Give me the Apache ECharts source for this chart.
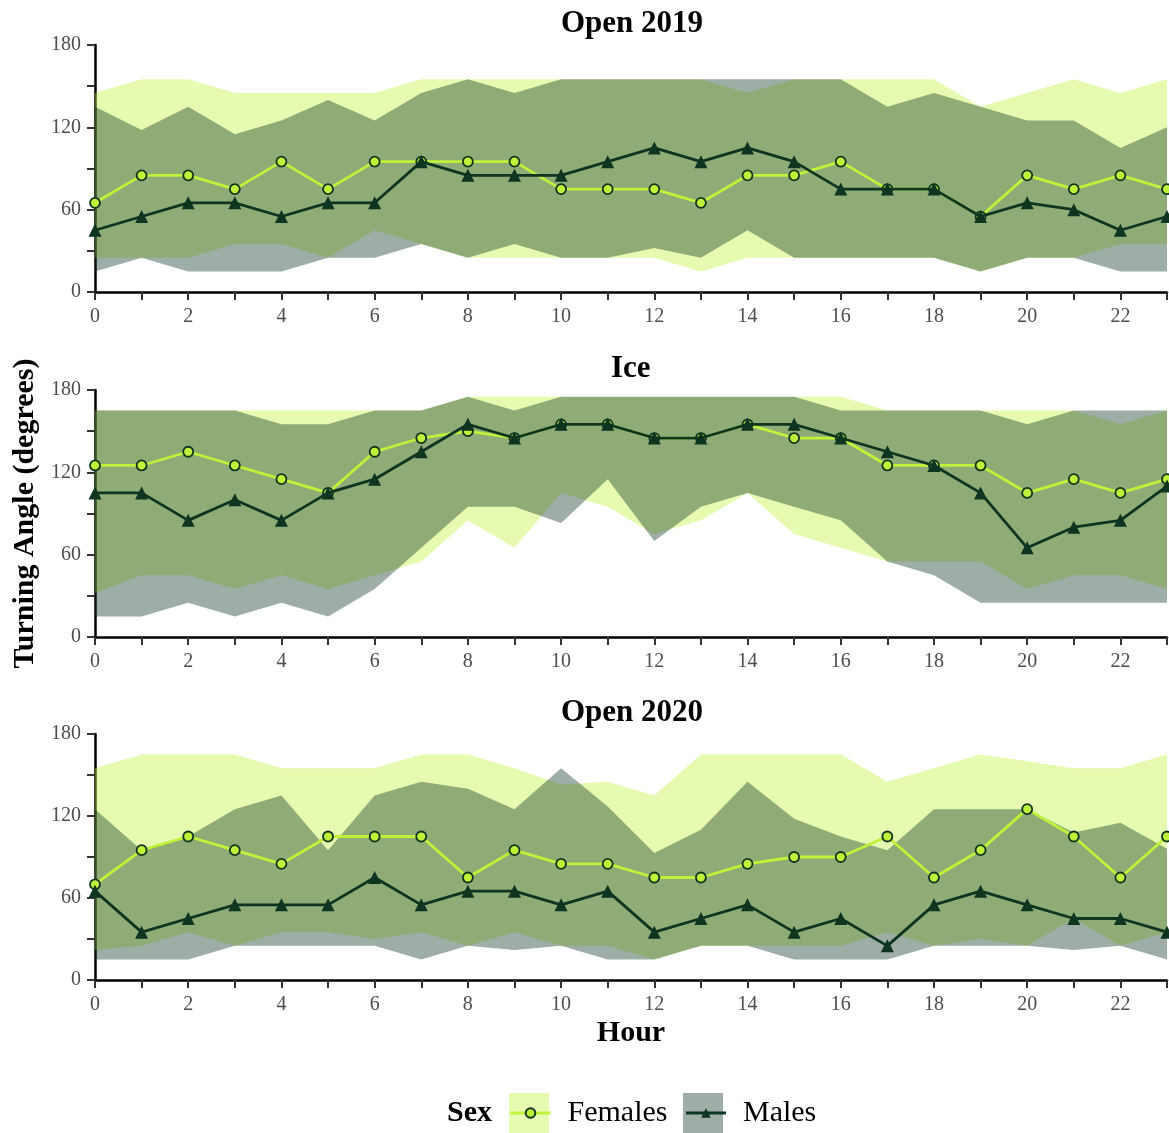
<!DOCTYPE html>
<html>
<head>
<meta charset="utf-8">
<script src="https://cdn.jsdelivr.net/npm/echarts@6/dist/echarts.min.js"></script>
<style>
html,body{margin:0;padding:0;background:#fff;}
#chart{width:1169px;height:1133px;}
</style>
</head>
<body>
<div id="chart"></div>
<script>
// ---------- data ----------
const hours = ['0','1','2','3','4','5','6','7','8','9','10','11','12','13','14','15','16','17','18','19','20','21','22','23'];
const panelTitles = ['Open 2019', 'Ice', 'Open 2020'];
const yTicks = [0, 60, 120, 180];

// Open 2019
const open2019FemMean  = [65,85,85,75,95,75,95,95,95,95,75,75,75,65,85,85,95,75,75,55,85,75,85,75];
const open2019MalMean  = [45,55,65,65,55,65,65,95,85,85,85,95,105,95,105,95,75,75,75,55,65,60,45,55];
const open2019FemUpper = [145,155,155,145,145,145,145,155,155,155,155,155,155,155,145,155,155,155,155,135,145,155,145,155];
const open2019FemLower = [25,25,25,35,35,25,45,35,25,25,25,25,25,15,25,25,25,25,25,15,25,25,35,35];
const open2019MalUpper = [135,118,135,115,125,140,125,145,155,145,155,155,155,155,155,155,155,135,145,135,125,125,105,120];
const open2019MalLower = [15,25,15,15,15,25,25,35,25,35,25,25,32,25,45,25,25,25,25,15,25,25,15,15];

// Ice
const iceFemMean  = [125,125,135,125,115,105,135,145,150,145,155,155,145,145,155,145,145,125,125,125,105,115,105,115];
const iceMalMean  = [105,105,85,100,85,105,115,135,155,145,155,155,145,145,155,155,145,135,125,105,65,80,85,110];
const iceFemUpper = [165,165,165,165,165,165,165,165,175,175,175,175,175,175,175,175,175,165,165,165,165,165,155,165];
const iceFemLower = [32,45,45,35,45,35,45,55,85,65,105,95,75,85,105,75,65,55,55,55,35,45,45,35];
const iceMalUpper = [165,165,165,165,155,155,165,165,175,165,175,175,175,175,175,175,165,165,165,165,155,165,165,165];
const iceMalLower = [15,15,25,15,25,15,35,65,95,95,83,115,70,95,105,95,85,55,45,25,25,25,25,25];

// Open 2020
const open2020FemMean  = [70,95,105,95,85,105,105,105,75,95,85,85,75,75,85,90,90,105,75,95,125,105,75,105];
const open2020MalMean  = [65,35,45,55,55,55,75,55,65,65,55,65,35,45,55,35,45,25,55,65,55,45,45,35];
const open2020FemUpper = [155,165,165,165,155,155,155,165,165,155,143,145,135,165,165,165,165,145,155,165,160,155,155,165];
const open2020FemLower = [22,25,35,25,35,35,30,35,25,35,25,25,15,25,25,25,25,35,25,30,25,45,25,35];
const open2020MalUpper = [125,95,105,125,135,95,135,145,140,125,155,127,93,110,145,118,105,95,125,125,125,108,115,96];
const open2020MalLower = [15,15,15,25,25,25,25,15,25,22,25,15,15,25,25,15,15,15,25,25,25,22,25,15];

// ---------- styles ----------
const FEM = '#c0f23a';
const MAL = '#0d3520';
const SERIF = "'Liberation Serif', 'Times New Roman', serif";

const panels = [
  {fm: open2019FemMean, mm: open2019MalMean, fu: open2019FemUpper, fl: open2019FemLower, mu: open2019MalUpper, ml: open2019MalLower},
  {fm: iceFemMean, mm: iceMalMean, fu: iceFemUpper, fl: iceFemLower, mu: iceMalUpper, ml: iceMalLower},
  {fm: open2020FemMean, mm: open2020MalMean, fu: open2020FemUpper, fl: open2020FemLower, mu: open2020MalUpper, ml: open2020MalLower}
];

const gridTops = [45, 390, 734];
const gridHeights = [247, 247, 246];
const titleLefts = [561, 611, 561];

const grids = [], xAxes = [], yAxes = [], titles = [], series = [];

panels.forEach((p, i) => {
  grids.push({left: 95, top: gridTops[i], width: 1072, height: gridHeights[i], containLabel: false});
  titles.push({
    text: panelTitles[i], left: titleLefts[i], top: gridTops[i] - 37, padding: 0,
    textStyle: {fontFamily: SERIF, fontWeight: 'bold', fontSize: 31, color: '#000'}
  });
  xAxes.push({
    type: 'category', gridIndex: i, data: hours, boundaryGap: false,
    axisLine: {lineStyle: {color: '#000', width: 2.5}},
    axisTick: {show: true, interval: 0, length: 8, lineStyle: {color: '#333', width: 2}},
    axisLabel: {interval: 1, color: '#4d4d4d', fontSize: 20, fontFamily: SERIF, margin: 15},
    splitLine: {show: false},
    name: i === 2 ? 'Hour' : '', nameLocation: 'middle', nameGap: 38,
    nameTextStyle: {fontFamily: SERIF, fontWeight: 'bold', fontSize: 30, color: '#000'}
  });
  yAxes.push({
    type: 'value', gridIndex: i, min: 0, max: 180, interval: 30,
    axisLine: {show: true, lineStyle: {color: '#000', width: 2.5}},
    axisTick: {show: true, length: 8, lineStyle: {color: '#333', width: 2}},
    axisLabel: {color: '#4d4d4d', fontSize: 20, fontFamily: SERIF, margin: 14,
      formatter: v => (yTicks.indexOf(v) >= 0 ? String(v) : '')},
    splitLine: {show: false},
    name: i === 1 ? 'Turning Angle (degrees)' : '', nameLocation: 'middle', nameGap: 52, nameRotate: 90,
    nameTextStyle: {fontFamily: SERIF, fontWeight: 'bold', fontSize: 30, color: '#000'}
  });

  const fBand = p.fu.map((u, k) => u - p.fl[k]);
  const mBand = p.mu.map((u, k) => u - p.ml[k]);
  const hidden = {type: 'line', xAxisIndex: i, yAxisIndex: i, symbol: 'none', silent: true,
    lineStyle: {opacity: 0, width: 0}};
  series.push(Object.assign({}, hidden, {name: 'fl' + i, stack: 'f' + i, data: p.fl}));
  series.push(Object.assign({}, hidden, {name: 'fb' + i, stack: 'f' + i, data: fBand,
    areaStyle: {color: FEM, opacity: 0.4}}));
  series.push(Object.assign({}, hidden, {name: 'ml' + i, stack: 'm' + i, data: p.ml}));
  series.push(Object.assign({}, hidden, {name: 'mb' + i, stack: 'm' + i, data: mBand,
    areaStyle: {color: MAL, opacity: 0.4}}));
  series.push({
    name: 'Females', type: 'line', xAxisIndex: i, yAxisIndex: i, data: p.fm,
    symbol: 'circle', symbolSize: 10, showAllSymbol: true, z: 5,
    lineStyle: {color: FEM, width: 2.8},
    itemStyle: {color: FEM, borderColor: MAL, borderWidth: 1.8}
  });
  series.push({
    name: 'Males', type: 'line', xAxisIndex: i, yAxisIndex: i, data: p.mm,
    symbol: 'triangle', symbolSize: 13, showAllSymbol: true, z: 6,
    lineStyle: {color: MAL, width: 2.8},
    itemStyle: {color: MAL}
  });
});

const chart = echarts.init(document.getElementById('chart'), null, {renderer: 'canvas'});
chart.setOption({
  animation: false,
  backgroundColor: '#fff',
  title: titles,
  grid: grids,
  xAxis: xAxes,
  yAxis: yAxes,
  legend: {
    data: ['Females', 'Males'], left: 509, top: 1098, padding: 0,
    itemWidth: 40, itemHeight: 12, itemGap: 17,
    lineStyle: {width: 3},
    textStyle: {fontFamily: SERIF, fontSize: 30, color: '#000', padding: [0, 0, 0, 12]}
  },
  graphic: [
    {type: 'rect', left: 509, top: 1093, z: -1, shape: {width: 40, height: 40}, style: {fill: FEM, opacity: 0.4}},
    {type: 'rect', left: 683, top: 1093, z: -1, shape: {width: 40, height: 40}, style: {fill: MAL, opacity: 0.4}},
    {type: 'text', left: 447, top: 1098, style: {text: 'Sex', font: "bold 30px 'Liberation Serif', serif", fill: '#000'}}
  ],
  series: series
});
</script>
</body>
</html>
